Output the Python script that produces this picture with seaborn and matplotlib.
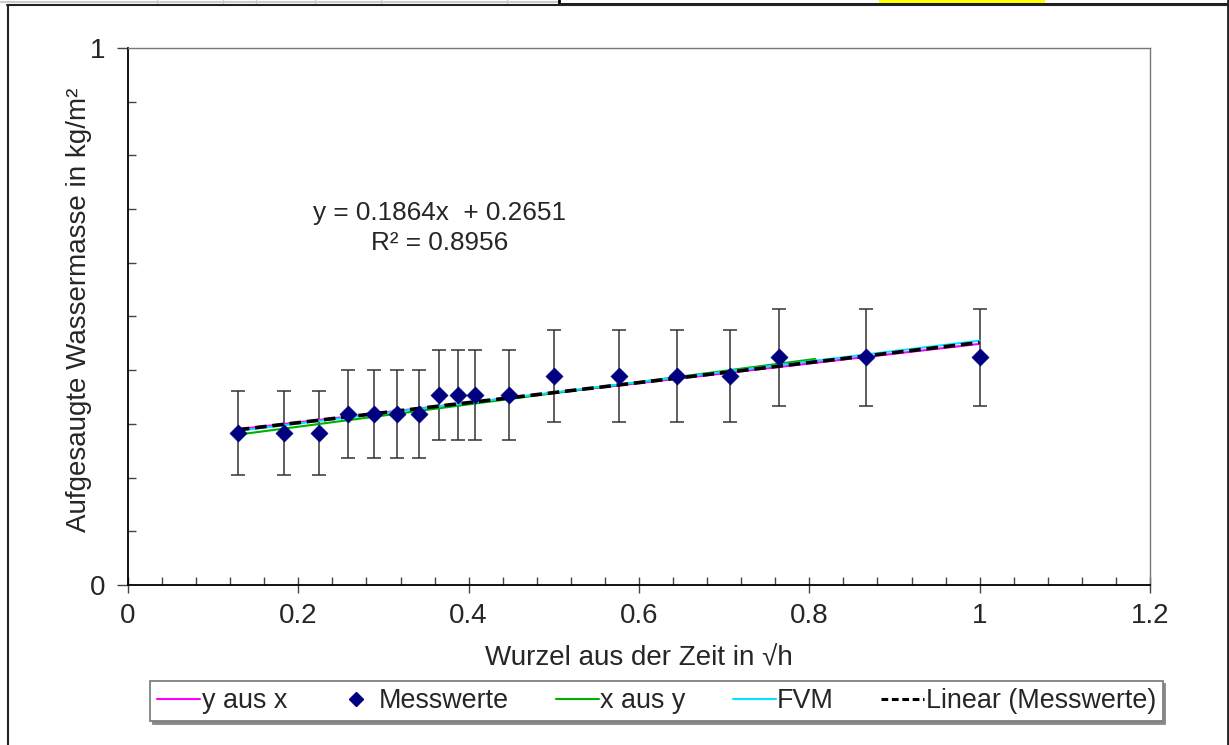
import numpy as np
import pandas as pd
import matplotlib
matplotlib.use("Agg")
import matplotlib.pyplot as plt
import seaborn as sns
from matplotlib.lines import Line2D
from matplotlib.patches import Rectangle
from matplotlib.ticker import MultipleLocator, FixedLocator

# ---- data ----
wurzel_zeit = [0.129, 0.183, 0.224, 0.258, 0.289, 0.316, 0.342, 0.365, 0.387,
               0.408, 0.447, 0.500, 0.577, 0.645, 0.707, 0.764, 0.866, 1.000]
messwerte = [0.283, 0.283, 0.283, 0.318, 0.318, 0.318, 0.318, 0.354, 0.354,
             0.354, 0.354, 0.389, 0.389, 0.389, 0.389, 0.424, 0.424, 0.424]
fehler = [0.079, 0.079, 0.079, 0.082, 0.082, 0.082, 0.082, 0.084, 0.084,
          0.084, 0.084, 0.086, 0.086, 0.086, 0.086, 0.090, 0.090, 0.090]

y_aus_x_x = [0.129, 1.000]
y_aus_x_y = [0.290, 0.449]
x_aus_y_x = [0.129, 0.807]
x_aus_y_y = [0.280, 0.421]
fvm_x = [0.129, 1.000]
fvm_y = [0.287, 0.455]

trend_steigung = 0.1864
trend_achse = 0.2651
trend_r2 = 0.8956

x_ticks = [0, 0.2, 0.4, 0.6, 0.8, 1.0, 1.2]
x_ticklabels = ["0", "0.2", "0.4", "0.6", "0.8", "1", "1.2"]
y_ticks = [0, 1]
y_ticklabels = ["0", "1"]

# ---- style ----
sns.set_style("ticks")
plt.rcParams["font.family"] = ["Liberation Sans", "DejaVu Sans"]
FS = 20
FS_EQ = 18.8
FS_LEG = 19.4

W, H = 1229, 745
fig = plt.figure(figsize=(W / 100, H / 100), dpi=100)
ax = fig.add_axes([128 / W, 1 - 585 / H, (1150 - 128) / W, (585 - 48) / H])

df = pd.DataFrame({"x": wurzel_zeit, "y": messwerte, "err": fehler})

# error bars
ax.errorbar(df["x"], df["y"], yerr=df["err"], fmt="none", ecolor="#333333",
            elinewidth=1.1, capsize=4.8, capthick=1.1, zorder=2)

# fitted lines
sns.lineplot(x=y_aus_x_x, y=y_aus_x_y, color="#ff00ff", lw=1.5, ax=ax, zorder=3)
sns.lineplot(x=x_aus_y_x, y=x_aus_y_y, color="#00b000", lw=1.5, ax=ax, zorder=3)
sns.lineplot(x=fvm_x, y=fvm_y, color="#00e5ff", lw=1.5, ax=ax, zorder=3)
trend_x = [min(wurzel_zeit), max(wurzel_zeit)]
trend_y = [trend_steigung * v + trend_achse for v in trend_x]
sns.lineplot(x=trend_x, y=trend_y, color="black", lw=2.6, ax=ax, zorder=4,
             dashes=False, linestyle=(0, (3.2, 1.6)))

# measurements
sns.scatterplot(data=df, x="x", y="y", marker="D", s=78, color="#000080",
                edgecolor="#000080", linewidth=0.3, ax=ax, zorder=5, legend=False)

# regression text
ax.text(0.366, 0.693, f"y = {trend_steigung:.4f}x  + {trend_achse:.4f}",
        ha="center", va="center", fontsize=FS_EQ)
ax.text(0.366, 0.637, f"R² = {trend_r2:.4f}", ha="center", va="center", fontsize=FS_EQ)

# axes
ax.set_xlim(0, 1.2)
ax.set_ylim(0, 1)
ax.xaxis.set_major_locator(FixedLocator(x_ticks))
ax.set_xticklabels(x_ticklabels)
ax.xaxis.set_minor_locator(MultipleLocator(0.04))
ax.yaxis.set_major_locator(FixedLocator(y_ticks))
ax.set_yticklabels(y_ticklabels)
ax.yaxis.set_minor_locator(MultipleLocator(0.1))
ax.tick_params(axis="x", which="major", direction="inout", length=12, width=1,
               labelsize=FS, pad=7, color="#444444")
ax.tick_params(axis="x", which="minor", direction="in", length=6, width=1, color="#444444")
ax.tick_params(axis="y", which="major", direction="out", length=8, width=1,
               labelsize=FS, pad=8, color="#444444")
ax.tick_params(axis="y", which="minor", direction="in", length=6, width=1, color="#444444")
for s in ["left", "bottom"]:
    ax.spines[s].set_color("black")
    ax.spines[s].set_linewidth(1.3)
for s in ["top", "right"]:
    ax.spines[s].set_color("#777777")
    ax.spines[s].set_linewidth(1.0)
ax.set_xlabel("Wurzel aus der Zeit in √h", fontsize=FS, labelpad=12)
ax.set_ylabel("Aufgesaugte Wassermasse in kg/m²", fontsize=FS)
ax.yaxis.set_label_coords(-0.035, 0.512)

# legend
handles = [
    Line2D([], [], color="#ff00ff", lw=1.5),
    Line2D([], [], color="#000080", marker="D", ls="none", markersize=7.5),
    Line2D([], [], color="#00b000", lw=1.5),
    Line2D([], [], color="#00e5ff", lw=1.5),
    Line2D([], [], color="black", lw=2.2, linestyle=(0, (2.2, 1.2))),
]
labels = ["y aus x", "Messwerte", "x aus y", "FVM", "Linear (Messwerte)"]
leg = fig.legend(handles, labels, loc="center", bbox_to_anchor=(656.5 / W, 1 - 701 / H),
                 ncol=5, fontsize=FS_LEG, frameon=True, fancybox=False, edgecolor="#808080",
                 handlelength=1.6, handletextpad=0.05, columnspacing=1.75,
                 borderpad=0.25, borderaxespad=0,
                 shadow={"color": "#888888", "alpha": 1.0})
leg.get_frame().set_linewidth(1.3)

# surrounding spreadsheet frame
def fline(x0, y0, x1, y1, **kw):
    fig.add_artist(Line2D([x0 / W, x1 / W], [1 - y0 / H, 1 - y1 / H],
                          transform=fig.transFigure, **kw))

fline(0, 1.5, 559, 1.5, color="#cccccc", lw=1.5)
for xc in [157, 223, 256, 315, 381, 507]:
    fline(xc, 0, xc, 3, color="#cccccc", lw=1)
fig.add_artist(Rectangle((879 / W, 1 - 2.5 / H), (1045 - 879) / W, 2.5 / H,
                         transform=fig.transFigure, color="#ffff00", lw=0))
fline(559, 0, 559, 3.5, color="black", lw=2)
fline(559, 3.5, 1228, 3.5, color="black", lw=2)
fline(7, 4.5, 1228, 4.5, color="#222222", lw=1.5)
fline(7.5, 4.5, 7.5, 745, color="#222222", lw=1.5)
fline(1227.5, 0, 1227.5, 745, color="#222222", lw=2)

fig.savefig("out.png", dpi=100)
